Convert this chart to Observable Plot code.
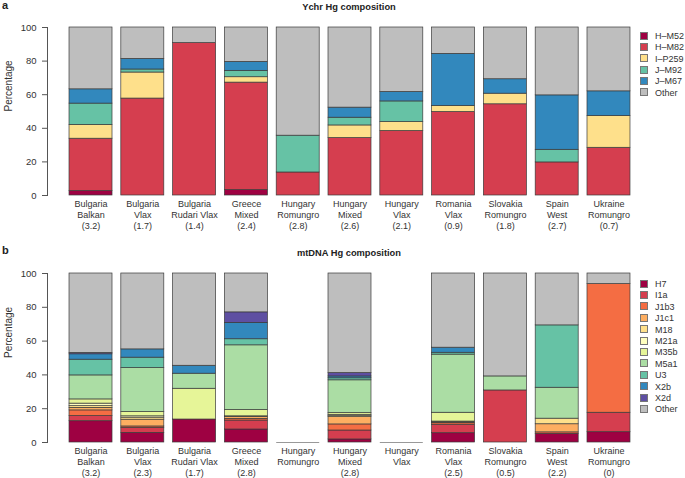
<!DOCTYPE html>
<html>
<head>
<meta charset="utf-8">
<script src="https://cdn.jsdelivr.net/npm/d3@7"></script>
<script src="https://cdn.jsdelivr.net/npm/@observablehq/plot@0.6"></script>
<style>
  html, body { margin: 0; padding: 0; background: #fff; }
  #root { position: relative; width: 685px; height: 478px; font-family: "Liberation Sans", Arial, Helvetica, sans-serif; color: #222; overflow: hidden; }
  .panel { position: absolute; left: 0; }
  .tag { position: absolute; font-weight: bold; font-size: 11px; }
  .title { position: absolute; font-weight: bold; font-size: 9.3px; width: 300px; text-align: center; }
  .legend { position: absolute; font-size: 9px; color: #333; }
  .legend .row { position: absolute; left: 0; white-space: nowrap; height: 11px; line-height: 11px; }
  .legend .sw { display: inline-block; width: 6px; height: 6px; border: 0.8px solid #777; vertical-align: middle; margin-right: 7px; position: relative; top: -1px; }
</style>
</head>
<body>
<div id="root"></div>
<script>
// ---------- Panel a: Y-chromosome haplogroups ----------
const yCats = ["Bulgaria Balkan", "Bulgaria Vlax", "Bulgaria Rudari Vlax", "Greece Mixed", "Hungary Romungro", "Hungary Mixed", "Hungary Vlax", "Romania Vlax", "Slovakia Romungro", "Spain West", "Ukraine Romungro"];
const yLabels = ["Bulgaria\nBalkan\n(3.2)", "Bulgaria\nVlax\n(1.7)", "Bulgaria\nRudari Vlax\n(1.4)", "Greece\nMixed\n(2.4)", "Hungary\nRomungro\n(2.8)", "Hungary\nMixed\n(2.6)", "Hungary\nVlax\n(2.1)", "Romania\nVlax\n(0.9)", "Slovakia\nRomungro\n(1.8)", "Spain\nWest\n(2.7)", "Ukraine\nRomungro\n(0.7)"];
const yHg = ["H\u2013M52", "H\u2013M82", "I\u2013P259", "J\u2013M92", "J\u2013M67", "Other"];
const yColors = ["#9E0142", "#D53E4F", "#FEE08B", "#66C2A5", "#3288BD", "#BEBEBE"];
const y_HM52  = [2.6, 0,    0,    3.2,  0,    0,    0,    0,    0,    0,    0];
const y_HM82  = [31.2, 57.7, 90.7, 64.0, 13.7, 34.2, 38.4, 49.7, 54.3, 19.7, 28.4];
const y_IP259 = [8.2, 15.5, 0,    3.2,  0,    7.5,  5.3,  3.6,  6.3,  0,    18.9];
const y_JM92  = [12.7, 1.8,  0,    3.8,  21.9, 4.6,  12.3, 0,    0,    7.5,  0];
const y_JM67  = [8.5, 6.3,  0,    5.3,  0,    6.0,  5.6,  31.0, 8.6,  32.4, 14.7];
const y_Other = [36.8, 18.7, 9.3,  20.5, 64.4, 47.7, 38.4, 15.7, 30.8, 40.4, 38.0];
const ySeries = [y_HM52, y_HM82, y_IP259, y_JM92, y_JM67, y_Other];

// ---------- Panel b: mtDNA haplogroups ----------
const mCats = ["Bulgaria Balkan", "Bulgaria Vlax", "Bulgaria Rudari Vlax", "Greece Mixed", "Hungary Romungro", "Hungary Mixed", "Hungary Vlax", "Romania Vlax", "Slovakia Romungro", "Spain West", "Ukraine Romungro"];
const mLabels = ["Bulgaria\nBalkan\n(3.2)", "Bulgaria\nVlax\n(2.3)", "Bulgaria\nRudari Vlax\n(1.7)", "Greece\nMixed\n(2.8)", "Hungary\nRomungro", "Hungary\nMixed\n(2.8)", "Hungary\nVlax", "Romania\nVlax\n(2.5)", "Slovakia\nRomungro\n(0.5)", "Spain\nWest\n(2.2)", "Ukraine\nRomungro\n(0)"];
const mHg = ["H7", "I1a", "J1b3", "J1c1", "M18", "M21a", "M35b", "M5a1", "U3", "X2b", "X2d", "Other"];
const mColors = ["#9E0142", "#D53E4F", "#F46D43", "#FDAE61", "#FEE08B", "#FFFFBF", "#E6F598", "#ABDDA4", "#66C2A5", "#3288BD", "#5E4FA2", "#BEBEBE"];
const m_H7    = [12.6, 5.7,  13.6, 7.7,  0, 1.8,  0, 5.5,  0,    5.1,  6.1];
const m_I1a   = [3.0,  3.0,  0,    5.3,  0, 5.3,  0, 5.0,  30.8, 0,    11.5];
const m_J1b3  = [3.4,  0.8,  0,    1.0,  0, 3.6,  0, 0.9,  0,    0.9,  76.1];
const m_J1c1  = [1.5,  4.0,  0,    1.0,  0, 4.3,  0, 0.5,  0,    4.8,  0];
const m_M18   = [1.0,  1.2,  0,    0,    0, 0.6,  0, 0.5,  0,    3.3,  0];
const m_M21a  = [1.5,  0.8,  0,    0.5,  0, 0.8,  0, 0,    0,    0,    0];
const m_M35b  = [2.5,  2.5,  18.2, 3.7,  0, 1.0,  0, 5.2,  0,    0,    0];
const m_M5a1  = [14.2, 26.0, 8.9,  38.3, 0, 19.4, 0, 34.4, 8.3,  18.3, 0];
const m_U3    = [9.3,  6.2,  0,    3.6,  0, 1.2,  0, 1.1,  0,    36.9, 0];
const m_X2b   = [3.2,  4.9,  4.7,  9.7,  0, 1.1,  0, 3.0,  0,    0,    0];
const m_X2d   = [0.8,  0,    0,    6.2,  0, 2.0,  0, 0,    0,    0,    0];
const m_Other = [47.0, 44.9, 54.6, 23.0, 0, 58.9, 0, 43.9, 60.9, 30.7, 6.3];
const mSeries = [m_H7, m_I1a, m_J1b3, m_J1c1, m_M18, m_M21a, m_M35b, m_M5a1, m_U3, m_X2b, m_X2d, m_Other];

const yTicks = [0, 20, 40, 60, 80, 100];

function toRows(cats, hgs, series) {
  const rows = [];
  cats.forEach((c, i) => {
    hgs.forEach((h, j) => {
      const v = series[j][i];
      if (v > 0) rows.push({cat: c, hg: h, value: v});
    });
  });
  return rows;
}

function makePanel({cats, labels, hgs, colors, series, height, marginTop, marginBottom}) {
  const rows = toRows(cats, hgs, series);
  const empty = cats.filter((c, i) => d3.sum(series, s => s[i]) === 0);
  const labelOf = new Map(cats.map((c, i) => [c, labels[i]]));
  return Plot.plot({
    width: 685,
    height,
    marginTop,
    marginBottom,
    marginLeft: 47,
    marginRight: 33,
    style: {fontFamily: '"Liberation Sans", Arial, Helvetica, sans-serif', fontSize: "9.5px", color: "#333", background: "#fff"},
    x: {domain: cats, paddingInner: 0.17, paddingOuter: 0.425, align: 0.5, round: false},
    y: {domain: [0, 100]},
    color: {domain: hgs, range: colors},
    marks: [
      Plot.barY(rows, {x: "cat", y: "value", fill: "hg", stroke: "#3a3a3a", strokeWidth: 0.7, order: null}),
      Plot.tickY(empty, {x: d => d, y: () => 0, stroke: "#999", strokeWidth: 1.2}),
      Plot.frame({anchor: "left", stroke: "#555"}),
      Plot.axisY({ticks: yTicks, tickSize: 5, tickPadding: 6, label: null, stroke: "#555", fill: "#333"}),
      Plot.axisX({tickSize: 0, tickPadding: 4, tickFormat: d => labelOf.get(d), lineHeight: 1.22, fontSize: 9, label: null, fill: "#333"}),
      Plot.text(["Percentage"], {frameAnchor: "left", rotate: -90, dx: -39, fill: "#333", fontSize: 10})
    ]
  });
}

function makeLegend(hgs, colors, left, top, step) {
  const div = document.createElement("div");
  div.className = "legend";
  div.style.left = left + "px";
  div.style.top = top + "px";
  hgs.forEach((h, i) => {
    const row = document.createElement("div");
    row.className = "row";
    row.style.top = (i * step) + "px";
    const sw = document.createElement("span");
    sw.className = "sw";
    sw.style.background = colors[i];
    row.appendChild(sw);
    row.appendChild(document.createTextNode(h));
    div.appendChild(row);
  });
  return div;
}

function addText(cls, text, left, top) {
  const d = document.createElement("div");
  d.className = cls;
  d.textContent = text;
  d.style.left = left + "px";
  d.style.top = top + "px";
  root.appendChild(d);
}

const root = document.getElementById("root");

const pa = makePanel({cats: yCats, labels: yLabels, hgs: yHg, colors: yColors, series: ySeries, height: 240, marginTop: 27, marginBottom: 45});
const wa = document.createElement("div"); wa.className = "panel"; wa.style.top = "0px"; wa.appendChild(pa); root.appendChild(wa);

const pb = makePanel({cats: mCats, labels: mLabels, hgs: mHg, colors: mColors, series: mSeries, height: 238, marginTop: 33, marginBottom: 36});
const wb = document.createElement("div"); wb.className = "panel"; wb.style.top = "240px"; wb.appendChild(pb); root.appendChild(wb);

addText("tag", "a", 2, -1);
addText("title", "Ychr Hg composition", 199, 2);
addText("tag", "b", 2, 244);
addText("title", "mtDNA Hg composition", 199, 248);

root.appendChild(makeLegend(yHg, yColors, 640, 31, 11.3));
root.appendChild(makeLegend(mHg, mColors, 640, 279, 11.4));
</script>
</body>
</html>
